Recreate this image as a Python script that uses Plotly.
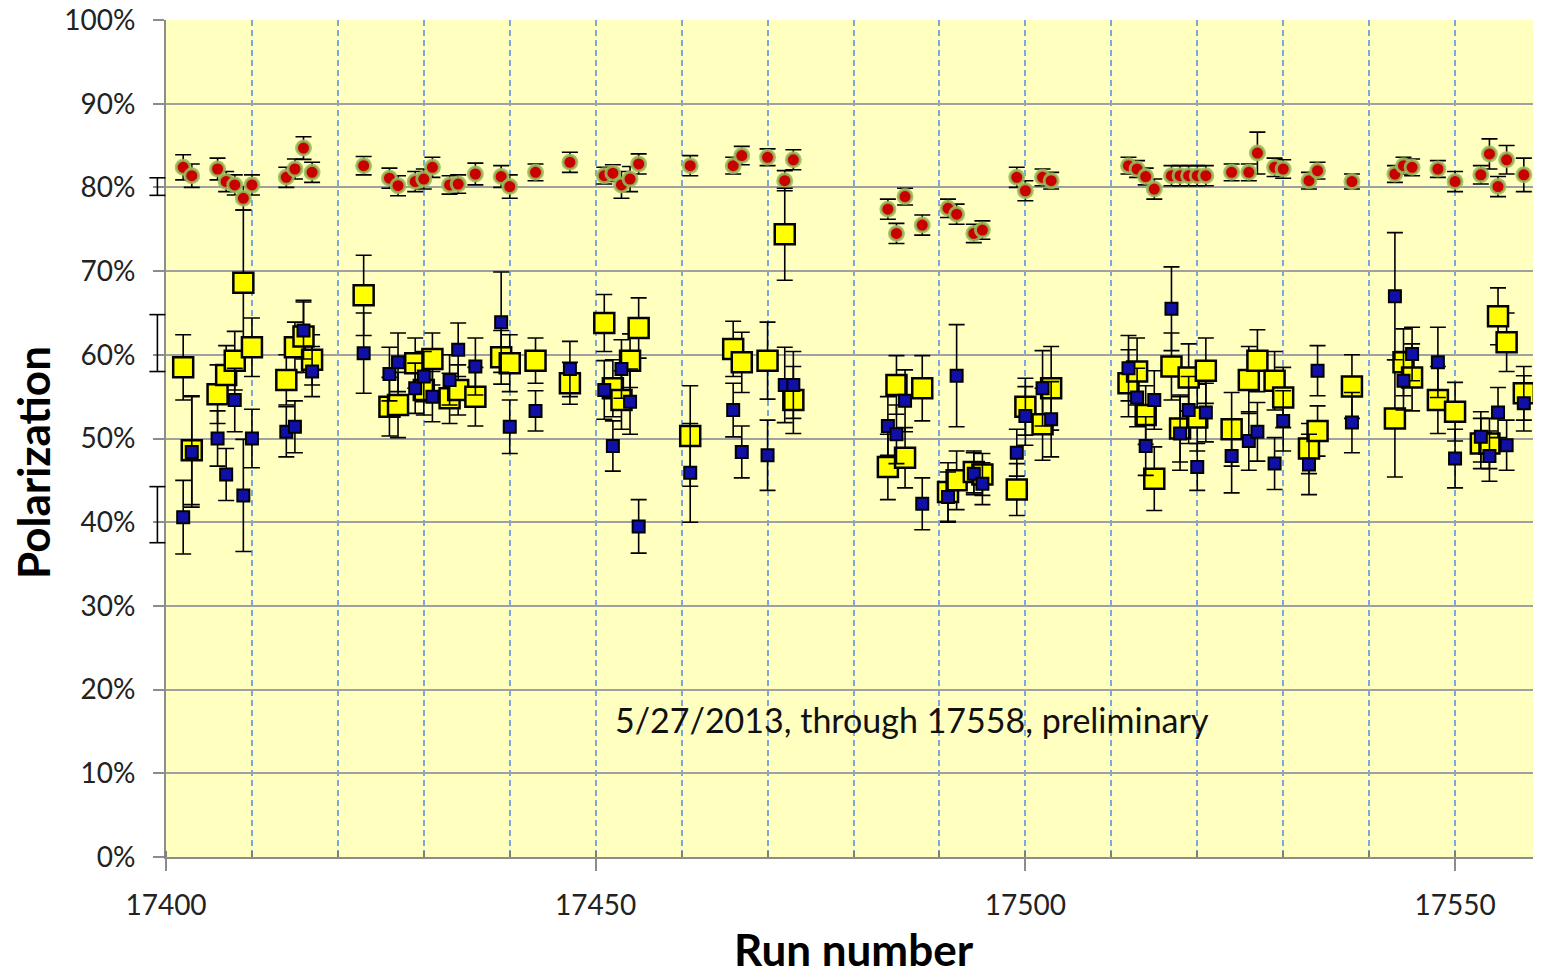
import plotly.graph_objects as go

# ---- data (run number, polarization %, error %) ----
red_runs = [17402, 17403, 17406, 17407, 17408, 17409, 17410, 17414, 17415, 17416, 17417,
            17423, 17426, 17427, 17429, 17430, 17431, 17433, 17434, 17436, 17439, 17440,
            17443, 17447, 17451, 17452, 17453, 17454, 17455, 17461, 17466, 17467, 17470,
            17472, 17473, 17484, 17485, 17486, 17488, 17491, 17492, 17494, 17495, 17499,
            17500, 17502, 17503, 17512, 17513, 17514, 17515, 17517, 17518, 17519, 17520,
            17521, 17524, 17526, 17527, 17529, 17530, 17533, 17534, 17538, 17543, 17544,
            17545, 17548, 17550, 17553, 17554, 17555, 17556, 17558]
red_pol = [82.4, 81.4, 82.2, 80.7, 80.3, 78.7, 80.3, 81.2, 82.2, 84.7, 81.8,
           82.6, 81.1, 80.2, 80.7, 81.0, 82.4, 80.3, 80.4, 81.6, 81.3, 80.1,
           81.8, 83.0, 81.4, 81.7, 80.3, 81.0, 82.8, 82.6, 82.6, 83.8, 83.6,
           80.8, 83.3, 77.4, 74.5, 78.9, 75.5, 77.5, 76.8, 74.5, 74.9, 81.2,
           79.6, 81.2, 80.8, 82.6, 82.2, 81.3, 79.8, 81.4, 81.4, 81.4, 81.4,
           81.4, 81.8, 81.8, 84.1, 82.4, 82.2, 80.8, 82.0, 80.7, 81.6, 82.6,
           82.4, 82.2, 80.7, 81.5, 84.0, 80.1, 83.3, 81.5]
red_err = [1.5, 1.4, 1.3, 1.2, 1.2, 1.4, 1.2, 1.2, 1.2, 1.35, 1.2,
           1.1, 1.2, 1.2, 1.2, 1.2, 1.2, 1.1, 1.1, 1.3, 1.3, 1.4,
           1.0, 1.2, 1.0, 1.0, 1.6, 1.5, 1.2, 1.2, 1.0, 1.1, 1.0,
           1.2, 1.2, 1.2, 1.2, 1.0, 1.2, 1.1, 1.2, 1.1, 1.1, 1.2,
           1.2, 1.0, 1.0, 1.0, 1.0, 1.0, 1.2, 1.2, 1.2, 1.2, 1.2,
           1.2, 1.0, 1.0, 2.5, 1.1, 1.1, 1.0, 1.0, 0.9, 1.0, 1.0,
           1.0, 1.0, 1.2, 1.1, 1.8, 1.2, 1.7, 2.0]

yellow_runs = [17402, 17403, 17406, 17407, 17408, 17409, 17410, 17414, 17415, 17416, 17417,
               17423, 17426, 17427, 17429, 17430, 17431, 17433, 17434, 17436, 17439, 17440,
               17443, 17447, 17451, 17452, 17453, 17454, 17455, 17461, 17466, 17467, 17470,
               17472, 17473, 17484, 17485, 17486, 17488, 17491, 17492, 17494, 17495, 17499,
               17500, 17502, 17503, 17512, 17513, 17514, 17515, 17517, 17518, 17519, 17520,
               17521, 17524, 17526, 17527, 17529, 17530, 17533, 17534, 17538, 17543, 17544,
               17545, 17548, 17550, 17553, 17554, 17555, 17556, 17558]
yellow_pol = [58.5, 48.6, 55.3, 57.6, 59.3, 68.6, 60.9, 57.0, 60.9, 62.2, 59.4,
              67.1, 53.8, 54.0, 59.0, 55.8, 59.5, 54.8, 55.8, 55.0, 59.7, 59.0,
              59.3, 56.6, 63.8, 56.0, 54.6, 59.3, 63.2, 50.3, 60.7, 59.1, 59.3,
              74.4, 54.6, 46.6, 56.4, 47.7, 56.0, 43.6, 45.0, 46.0, 45.7, 43.9,
              53.8, 51.7, 56.0, 56.6, 58.0, 52.8, 45.2, 58.6, 51.2, 57.3, 52.5,
              58.1, 51.1, 57.0, 59.3, 56.9, 54.9, 48.8, 50.9, 56.2, 52.4, 59.1,
              57.3, 54.6, 53.2, 49.4, 49.4, 64.6, 61.5, 55.4]
yellow_err = [3.9, 6.5, 3.5, 3.5, 3.5, 8.7, 3.5, 3.0, 3.0, 4.3, 3.0,
              4.8, 3.5, 3.9, 3.0, 3.0, 3.1, 3.0, 3.0, 3.5, 3.2, 3.4,
              2.7, 2.5, 3.4, 3.4, 3.5, 3.2, 3.6, 6.0, 3.3, 3.6, 4.6,
              5.5, 4.0, 3.9, 3.5, 3.6, 3.9, 3.5, 3.5, 2.5, 2.5, 3.1,
              3.4, 4.3, 5.0, 4.0, 4.0, 3.5, 3.8, 4.0, 4.0, 4.0, 4.0,
              3.9, 4.4, 4.0, 3.7, 3.5, 3.6, 3.0, 3.0, 3.8, 7.0, 4.0,
              4.0, 4.0, 3.5, 3.0, 3.0, 3.4, 3.5, 3.2]

blue_runs = list(yellow_runs)
blue_pol = [40.6, 48.4, 50.0, 45.7, 54.6, 43.2, 50.0, 50.8, 51.4, 62.9, 58.0,
            60.2, 57.7, 59.1, 56.0, 57.4, 55.0, 57.0, 60.6, 58.6, 63.9, 51.4,
            53.3, 58.3, 55.8, 49.1, 58.3, 54.4, 39.5, 45.9, 53.4, 48.4, 48.0,
            56.4, 56.4, 51.5, 50.5, 54.5, 42.2, 43.0, 57.5, 45.8, 44.6, 48.3,
            52.7, 56.0, 52.3, 58.4, 54.9, 49.1, 54.6, 65.5, 50.6, 53.4, 46.6,
            53.1, 47.9, 49.7, 50.8, 47.0, 52.1, 46.9, 58.1, 51.9, 67.0, 56.9,
            60.1, 59.1, 47.6, 50.2, 47.9, 53.1, 49.2, 54.2]
blue_err = [4.4, 6.6, 3.3, 3.1, 3.8, 6.7, 3.5, 3.0, 3.1, 3.4, 3.0,
            4.8, 3.2, 3.5, 3.0, 3.0, 3.0, 3.0, 3.2, 3.4, 6.0, 3.2,
            2.4, 3.3, 3.5, 3.0, 3.5, 3.9, 3.2, 5.9, 3.2, 3.1, 4.2,
            4.5, 4.0, 3.5, 3.5, 3.7, 3.1, 3.0, 6.1, 2.5, 2.5, 2.8,
            3.5, 4.5, 4.5, 3.9, 3.5, 3.5, 3.5, 5.0, 4.4, 4.0, 2.8,
            3.5, 4.4, 3.5, 3.5, 3.1, 3.6, 3.6, 3.0, 3.6, 7.6, 3.5,
            3.2, 4.2, 3.5, 3.0, 3.0, 3.0, 3.0, 3.3]

# points just left of the visible range (only their error bars show)
edge_runs = [17399, 17399, 17399]
edge_pol = [80.1, 61.4, 40.9]
edge_err = [1.05, 3.4, 3.35]

x_range = [17400, 17560]
x_ticks = [17400, 17450, 17500, 17550]
y_ticks = [0, 10, 20, 30, 40, 50, 60, 70, 80, 90, 100]
note = "5/27/2013, through 17558, preliminary"

FONT = "Lato"
GRID_BLUE = "#7AA7E0"

def ebar(err):
    return dict(type="data", array=err, visible=True, color="black", thickness=1.6, width=8)

fig = go.Figure()
fig.add_trace(go.Scatter(x=red_runs, y=red_pol, mode="markers", error_y=ebar(red_err),
                         marker=dict(symbol="circle", size=14, color="#C80000",
                                     line=dict(color="rgba(150,190,90,0.85)", width=3)),
                         showlegend=False))
fig.add_trace(go.Scatter(x=yellow_runs, y=yellow_pol, mode="markers", error_y=ebar(yellow_err),
                         marker=dict(symbol="square", size=20, color="#FFFF00",
                                     line=dict(color="black", width=2.5)),
                         showlegend=False))
fig.add_trace(go.Scatter(x=blue_runs, y=blue_pol, mode="markers", error_y=ebar(blue_err),
                         marker=dict(symbol="square", size=12, color="#1010A8",
                                     line=dict(color="black", width=2)),
                         showlegend=False))

# error bars of the points left of the axis (drawn unclipped, paper x from the run number)
shapes = []
for r, p, e in zip(edge_runs, edge_pol, edge_err):
    px = (r - x_range[0]) / (x_range[1] - x_range[0])
    line = dict(color="black", width=1.6)
    shapes.append(dict(type="line", xref="paper", yref="y", x0=px, x1=px,
                       y0=p - e, y1=p + e, line=line))
    for yy in (p - e, p + e):
        shapes.append(dict(type="line", xref="paper", yref="y", xsizemode="pixel",
                           xanchor=px, x0=-8, x1=8, y0=yy, y1=yy, line=line))

fig.update_layout(
    width=1533, height=964,
    margin=dict(l=158, r=0, t=12, b=115, autoexpand=False),
    paper_bgcolor="white", plot_bgcolor="#FFFFC0",
    font=dict(family=FONT, color="#222222"),
    shapes=shapes,
    xaxis=dict(range=x_range, tickvals=x_ticks, ticktext=[str(v) for v in x_ticks],
               automargin=False,
               showline=True, linecolor="#8C8C8C", linewidth=2,
               ticks="outside", ticklen=12, tickwidth=2, tickcolor="#8C8C8C",
               ticklabelstandoff=10,
               showgrid=True, gridcolor=GRID_BLUE, griddash="6px,4px", gridwidth=1.5,
               minor=dict(dtick=10, ticks="inside", ticklen=6, tickwidth=2, tickcolor="#7F7F7F",
                          showgrid=True, gridcolor=GRID_BLUE, griddash="6px,4px", gridwidth=1.5),
               zeroline=False, tickfont=dict(family=FONT, size=28, color="#222222")),
    yaxis=dict(range=[0, 100], tickvals=y_ticks, ticktext=[f"{v}%" for v in y_ticks],
               automargin=False,
               showline=True, linecolor="#8C8C8C", linewidth=2,
               ticks="outside", ticklen=11, tickwidth=2, tickcolor="#8C8C8C",
               ticklabelstandoff=12, ticklabeloverflow="allow",
               showgrid=True, gridcolor="#A0A0A0", gridwidth=2,
               zeroline=False, tickfont=dict(family=FONT, size=28, color="#222222")),
    annotations=[
        dict(text=note, xref="paper", yref="paper", x=0.5425, y=0.1637,
             xanchor="center", yanchor="middle", showarrow=False,
             font=dict(family=FONT, size=34, color="#111111")),
        dict(text="Polarization", xref="paper", yref="paper", x=0, y=0.4707,
             xanchor="center", yanchor="middle", xshift=-133, textangle=-90, showarrow=False,
             font=dict(family=FONT, size=44, color="black", weight="bold")),
        dict(text="Run number", xref="paper", yref="paper", x=0.5004, y=0,
             xanchor="center", yanchor="middle", yshift=-92, showarrow=False,
             font=dict(family=FONT, size=44, color="black", weight="bold")),
    ],
)

fig.write_html("out.html")
